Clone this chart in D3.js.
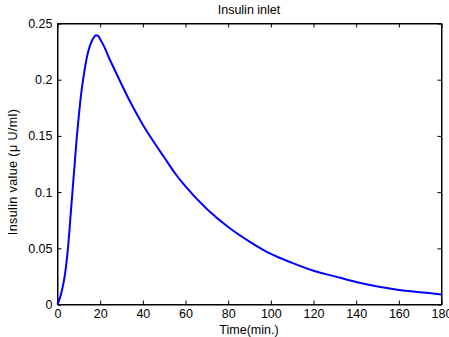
<!DOCTYPE html>
<html>
<head>
<meta charset="utf-8">
<script src="https://cdn.jsdelivr.net/npm/d3@7"></script>
<style>
  body { margin: 0; background: #fff; }
  svg text { font-family: "Liberation Sans", Arial, Helvetica, sans-serif; fill: #000; }
</style>
</head>
<body>
<div id="chart"></div>
<script>
// time (min) and insulin value
const times = [0, 1, 2, 3, 4, 5, 6, 7, 8, 9, 10, 11, 12, 13, 14, 15, 16, 17, 18, 19, 20,
  22, 24, 26, 28, 30, 35, 40, 45, 50, 55, 60, 70, 80, 90, 100, 110, 120, 130, 140, 150, 160, 170, 180];
const insulin = [0, 0.005, 0.012, 0.021, 0.034, 0.052, 0.076, 0.1, 0.124, 0.148, 0.168, 0.186, 0.2, 0.212,
  0.222, 0.229, 0.234, 0.2375, 0.2395, 0.239, 0.236,
  0.229, 0.22, 0.212, 0.204, 0.196, 0.177, 0.16, 0.145, 0.131, 0.117, 0.105, 0.085, 0.069, 0.056,
  0.045, 0.037, 0.030, 0.025, 0.020, 0.016, 0.013, 0.011, 0.009];
const xTicks = [0, 20, 40, 60, 80, 100, 120, 140, 160, 180];
const yTicks = [0, 0.05, 0.1, 0.15, 0.2, 0.25];

const W = 449, H = 337;
const margin = {top: 23, right: 8, bottom: 33, left: 57};
const innerW = W - margin.left - margin.right;
const innerH = H - margin.top - margin.bottom;

const svg = d3.select('#chart').append('svg')
  .attr('width', W)
  .attr('height', H);

const g = svg.append('g')
  .attr('transform', 'translate(' + (margin.left + 0.5) + ',' + (margin.top + 0.5) + ')');

const x = d3.scaleLinear().domain([0, 180]).range([0, innerW]);
const y = d3.scaleLinear().domain([0, 0.25]).range([innerH, 0]);

const fmtY = d => d === 0 ? '0' : String(+d.toFixed(2));

// bottom axis, ticks pointing in
g.append('g')
  .attr('transform', 'translate(0,' + innerH + ')')
  .call(d3.axisBottom(x).tickValues(xTicks).tickSizeInner(-4).tickSizeOuter(0).tickPadding(5));
// top ticks
g.append('g')
  .call(d3.axisTop(x).tickValues(xTicks).tickSizeInner(-4).tickSizeOuter(0).tickFormat(''));
// left axis
g.append('g')
  .call(d3.axisLeft(y).tickValues(yTicks).tickSizeInner(-4).tickSizeOuter(0).tickPadding(5).tickFormat(fmtY));
// right ticks
g.append('g')
  .attr('transform', 'translate(' + innerW + ',0)')
  .call(d3.axisRight(y).tickValues(yTicks).tickSizeInner(-4).tickSizeOuter(0).tickFormat(''));

g.selectAll('.domain').attr('stroke', '#000');
g.selectAll('.tick line').attr('stroke', '#000');
g.selectAll('.tick text')
  .style('font-size', '12.5px')
  .style('font-family', '"Liberation Sans", Arial, sans-serif');

// box
g.append('rect')
  .attr('width', innerW)
  .attr('height', innerH)
  .attr('fill', 'none')
  .attr('stroke', '#000');

// the curve
const line = d3.line()
  .x((d, i) => x(times[i]))
  .y(d => y(d))
  .curve(d3.curveMonotoneX);

g.append('path')
  .datum(insulin)
  .attr('d', line)
  .attr('fill', 'none')
  .attr('stroke', '#0000ff')
  .attr('stroke-width', 2);

// labels
svg.append('text')
  .attr('x', margin.left + innerW / 2)
  .attr('y', 14)
  .attr('text-anchor', 'middle')
  .style('font-size', '12.5px')
  .text('Insulin inlet');

svg.append('text')
  .attr('x', margin.left + innerW / 2)
  .attr('y', 334)
  .attr('text-anchor', 'middle')
  .style('font-size', '12.5px')
  .text('Time(min.)');

svg.append('text')
  .attr('transform', 'translate(17,172) rotate(-90)')
  .attr('text-anchor', 'middle')
  .style('font-size', '12.5px')
  .style('letter-spacing', '0.4px')
  .text('Insulin value (\u03bc U/ml)');
</script>
</body>
</html>
